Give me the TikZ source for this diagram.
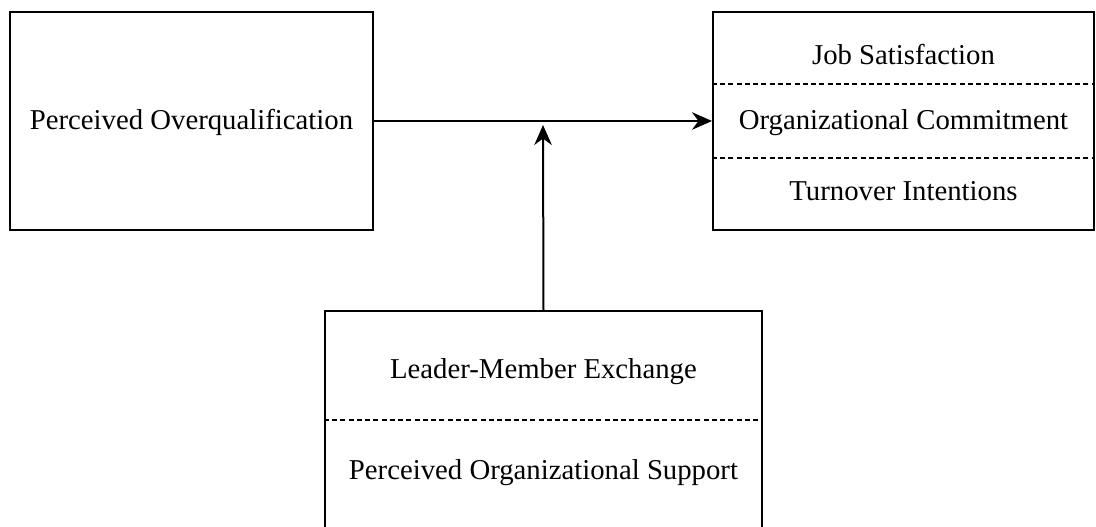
\documentclass[tikz,border=0pt]{standalone}
\usepackage{fontspec}
\setmainfont{Liberation Serif}
\usetikzlibrary{arrows.meta,calc}

\tikzset{
    box/.style={draw, line width=0.8pt, minimum height=87.2pt, inner sep=0pt},
    lbl/.style={font=\fontsize{11.5}{14}\selectfont, inner sep=1pt},
    split/.style={line width=0.75pt, dash pattern=on 2pt off 1.3pt},
    arr/.style={line width=0.8pt, -{Stealth[length=8pt, width=7pt, inset=2.6pt]}}
}

\begin{document}
\begin{tikzpicture}[x=0.4pt, y=-0.4pt]

    \useasboundingbox (0,0) rectangle (1096,527);

    % boxes
    \node[box, minimum width=145.2pt] (poq) at (191.5,121) {};
    \node[box, minimum width=152.4pt] (out) at (903.5,121) {};
    \node[box, minimum width=174.8pt] (mod) at (543.5,420) {};

    % dashed separators
    \draw[split] ($(out.north west)!1/3!(out.south west)$) -- ($(out.north east)!1/3!(out.south east)$);
    \draw[split] ($(out.north west)!2/3!(out.south west)$) -- ($(out.north east)!2/3!(out.south east)$);
    \draw[split] (mod.west) -- (mod.east);

    % labels
    \node[lbl] (poqtxt) at (191.5,122) {Perceived Overqualification};
    \node[lbl] (js) at (903.5,55) {Job Satisfaction};
    \node[lbl] (oc) at (903.5,123) {Organizational Commitment};
    \node[lbl] (ti) at (903.5,191) {Turnover Intentions};
    \node[lbl] (lmx) at (543.5,372) {Leader-Member Exchange};
    \node[lbl] (pos) at (543.5,473) {Perceived Organizational Support};

    % arrows
    \coordinate (join) at (543,125);
    \draw[arr] (poq.east) -- (out.west);
    \draw[arr] (mod.north) -- (join);

\end{tikzpicture}
\end{document}
